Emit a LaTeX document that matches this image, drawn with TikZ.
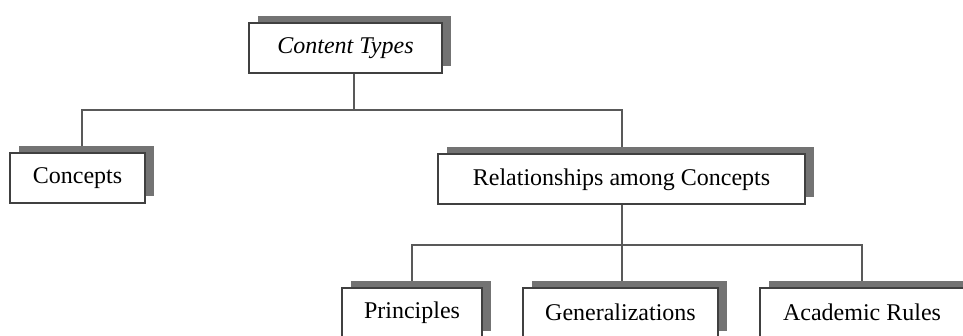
\documentclass[tikz,border=0pt]{standalone}
\usepackage{fontspec}
\setmainfont{Liberation Serif}
\usetikzlibrary{shadows,backgrounds}

\begin{document}
\begin{tikzpicture}[x=0.5pt, y=-0.5pt, font=\fontsize{12}{14}\selectfont,
  nd/.style={draw=black!75, line width=1pt, fill=white, inner sep=0pt, minimum height=25pt, minimum width=#1,
    drop shadow={shadow xshift=4.25pt, shadow yshift=3.5pt, fill=black!55, opacity=1}},
  nd/.default=70pt,
  ln/.style={draw=black!65, line width=1pt}]
\useasboundingbox (0,0) rectangle (963,336);
\clip (0,0) rectangle (963,336);
\node[nd=96.5pt, font=\fontsize{12}{14}\selectfont\itshape] (types) at (345.5,48.5) {Content Types};
\node[nd=67.5pt] (conc) at (77.5,178) {Concepts};
\node[nd=183.5pt] (rel) at (621.5,179.5) {Relationships among Concepts};
\foreach \n/\x/\w/\lab in {prin/412/70pt/Principles, gen/620.5/97.5pt/Generalizations, rule/862/102pt/Academic Rules}
  \node[nd=\w] (\n) at (\x,312.5) {\lab};
% tree lines sit behind the shadowed boxes
\begin{scope}[on background layer]
\draw[ln] ([xshift=4pt]types.south) -- ++(0,36) coordinate (fork) -| ([xshift=2pt]conc.north);
\draw[ln] (fork) -| (rel.north);
\draw[ln] (rel.south) -- ++(0,40) coordinate (fork2) -| (prin.north);
\draw[ln] (fork2) -| (rule.north);
\draw[ln] (fork2) -- (fork2 |- gen.north);
\end{scope}
\end{tikzpicture}
\end{document}
